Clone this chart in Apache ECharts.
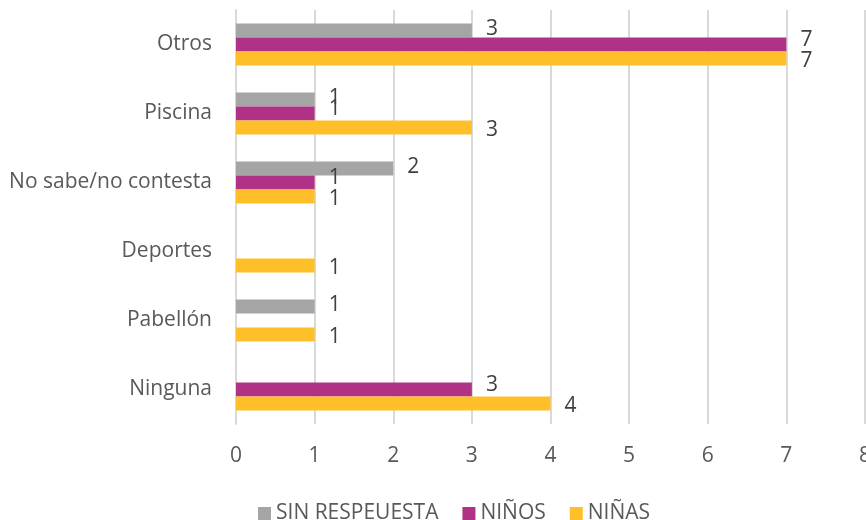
<!DOCTYPE html>
<html>
<head>
<meta charset="utf-8">
<script src="https://cdn.jsdelivr.net/npm/echarts@6/dist/echarts.min.js"></script>
<style>
  html, body { margin: 0; padding: 0; background: #fff; }
  #chart { width: 866px; height: 520px; }
</style>
</head>
<body>
<div id="chart"></div>
<script>
// categories from bottom to top
const categories = ['Ninguna', 'Pabellón', 'Deportes', 'No sabe/no contesta', 'Piscina', 'Otros']
const sinRespuesta = [null, 1, null, 2, 1, 3]
const ninos = [3, null, null, 1, 1, 7]
const ninas = [4, 1, 1, 1, 3, 7]
const xTicks = [0, 1, 2, 3, 4, 5, 6, 7, 8]

const font = 'Open Sans'
const chart = echarts.init(document.getElementById('chart'))

function barSeries(name, data, color, labelShift) {
  return {
    name: name,
    type: 'bar',
    data: data,
    barGap: '0%',
    barCategoryGap: '39%',
    itemStyle: { color: color },
    label: {
      show: true,
      position: 'right',
      distance: 14,
      offset: [0, labelShift],
      color: '#404040',
      fontSize: 21,
      fontFamily: font,
    },
  }
}

chart.setOption({
  animation: false,
  grid: { left: 236, right: 1, top: 10, bottom: 96, containLabel: false, outerBoundsMode: 'none' },
  legend: {
    data: ['SIN RESPEUESTA', 'NIÑOS', 'NIÑAS'],
    left: 253,
    top: 498,
    itemWidth: 13,
    itemHeight: 13,
    itemGap: 24,
    icon: 'rect',
    textStyle: { color: '#595959', fontSize: 21, fontFamily: font },
  },
  xAxis: {
    type: 'value',
    min: xTicks[0],
    max: xTicks[xTicks.length - 1],
    interval: 1,
    axisLine: { show: false },
    axisTick: { show: false },
    axisLabel: { color: '#595959', fontSize: 21, fontFamily: font, margin: 22 },
    splitLine: { lineStyle: { color: '#D9D9D9', width: 2 } },
  },
  yAxis: {
    type: 'category',
    data: categories,
    axisLine: { lineStyle: { color: '#D9D9D9', width: 2 } },
    axisTick: { show: false },
    axisLabel: { color: '#595959', fontSize: 21, fontFamily: font, margin: 24 },
  },
  series: [
    barSeries('SIN RESPEUESTA', sinRespuesta, '#A5A5A5', -1),
    barSeries('NIÑOS', ninos, '#B03287', -4),
    barSeries('NIÑAS', ninas, '#FFBF29', 2),
  ],
})
</script>
</body>
</html>
